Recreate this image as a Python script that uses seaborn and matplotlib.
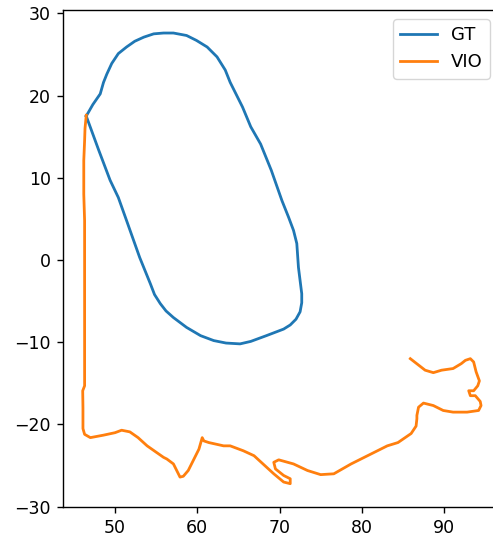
import matplotlib
matplotlib.use("Agg")
import matplotlib.pyplot as plt
import seaborn as sns
import pandas as pd

gt_x = [46.5, 47.3, 48.2, 48.6, 49.0, 49.6, 50.4, 51.4, 52.4, 53.5, 54.7, 55.9, 57.1,
        58.7, 59.9, 61.2, 62.4, 63.4, 64.0, 65.5, 66.5, 67.7, 69.0, 70.3, 71.1, 71.7,
        72.1, 72.3, 72.5, 72.7, 72.7, 72.5, 72.0, 71.3, 70.5, 68.4, 66.5, 65.2, 63.5, 62.0,
        60.4, 58.7, 57.1, 56.2, 55.5, 54.8, 54.3, 53.0, 51.4, 50.4, 49.4, 48.0, 46.5]
gt_y = [17.5, 18.9, 20.2, 21.6, 22.6, 23.9, 25.1, 25.9, 26.6, 27.1, 27.5, 27.6, 27.6,
        27.3, 26.7, 25.9, 24.7, 23.1, 21.6, 18.6, 16.2, 14.1, 10.9, 7.2, 5.2, 3.6,
        2.0, -0.9, -2.5, -4.1, -5.2, -6.3, -7.2, -7.9, -8.4, -9.2, -9.9, -10.2, -10.1, -9.8,
        -9.2, -8.2, -7.0, -6.2, -5.3, -4.2, -2.9, 0.3, 4.8, 7.6, 9.7, 13.4, 17.5]

# VIO estimated trajectory (x, y)
vio_x = [46.5, 46.35, 46.3, 46.2, 46.2, 46.3, 46.3, 46.3, 46.3, 46.3, 46.07, 46.1, 46.1,
         46.3, 47.0, 48.6, 50.0, 50.8, 51.8, 52.8, 53.9, 55.9, 56.3, 57.1, 57.5, 57.9,
         58.3, 58.9, 59.5, 60.2, 60.6, 60.8, 61.4, 63.2, 64.0, 65.6, 66.9, 69.3, 70.5,
         71.3, 71.3, 70.5, 69.5, 69.3, 69.9, 71.7, 73.4, 75.0, 76.6, 78.7, 80.7, 83.1,
         84.4, 86.0, 86.6, 86.7, 86.7, 86.9, 87.5, 88.7, 89.9, 91.1, 92.8, 94.2, 94.5,
         94.4, 93.8, 93.2, 93.0, 93.6, 94.1, 94.3, 93.9, 93.6, 93.2, 92.6, 92.1, 91.1,
         89.7, 88.7, 87.7, 85.9]
vio_y = [17.6, 16.0, 14.5, 12.1, 8.0, 4.8, 0.0, -5.0, -9.8, -15.3, -15.9, -18.0, -20.5,
         -21.2, -21.6, -21.3, -21.0, -20.7, -20.9, -21.6, -22.6, -24.0, -24.2, -24.8, -25.6, -26.4,
         -26.3, -25.6, -24.4, -23.0, -21.6, -22.0, -22.2, -22.6, -22.6, -23.2, -23.8, -26.0, -27.0,
         -27.2, -26.6, -26.2, -25.4, -24.6, -24.3, -24.8, -25.6, -26.1, -26.0, -24.8, -23.8, -22.6,
         -22.2, -21.1, -20.2, -19.3, -18.9, -17.9, -17.4, -17.7, -18.3, -18.5, -18.5, -18.3, -17.7,
         -17.2, -16.5, -16.5, -15.9, -15.9, -15.3, -14.7, -13.6, -12.4, -12.0, -12.2, -12.6, -13.2,
         -13.4, -13.7, -13.4, -12.0]

gt_df = pd.DataFrame({"x": gt_x, "y": gt_y})
vio_df = pd.DataFrame({"x": vio_x, "y": vio_y})

plt.rcParams.update({
    "font.size": 12.5,
    "axes.linewidth": 1.0,
    "xtick.major.size": 4.4,
    "ytick.major.size": 4.4,
    "xtick.major.width": 1.0,
    "ytick.major.width": 1.0,
    "xtick.major.pad": 4.4,
    "ytick.major.pad": 4.4,
})

fig = plt.figure(figsize=(4.93, 5.40), dpi=100)
ax = fig.add_axes([63.3 / 493, 33.3 / 540, (499 - 63.3) / 493, 496.7 / 540])

sns.lineplot(data=gt_df, x="x", y="y", sort=False, estimator=None, ax=ax,
             color="#1f77b4", linewidth=2.0, label="GT")
sns.lineplot(data=vio_df, x="x", y="y", sort=False, estimator=None, ax=ax,
             color="#ff7f0e", linewidth=2.0, label="VIO")

ax.set_xlim(43.71, 43.71 + (499 - 63.3) / 8.225)
ax.set_ylim(-30.0, 30.4)
ax.set_xticks([50, 60, 70, 80, 90])
ax.set_yticks([-30, -20, -10, 0, 10, 20, 30])
ax.set_xlabel("")
ax.set_ylabel("")
ax.tick_params(labelsize=12.5)
ax.legend(loc="upper right", fontsize=13)

fig.savefig("out.png", dpi=100)
